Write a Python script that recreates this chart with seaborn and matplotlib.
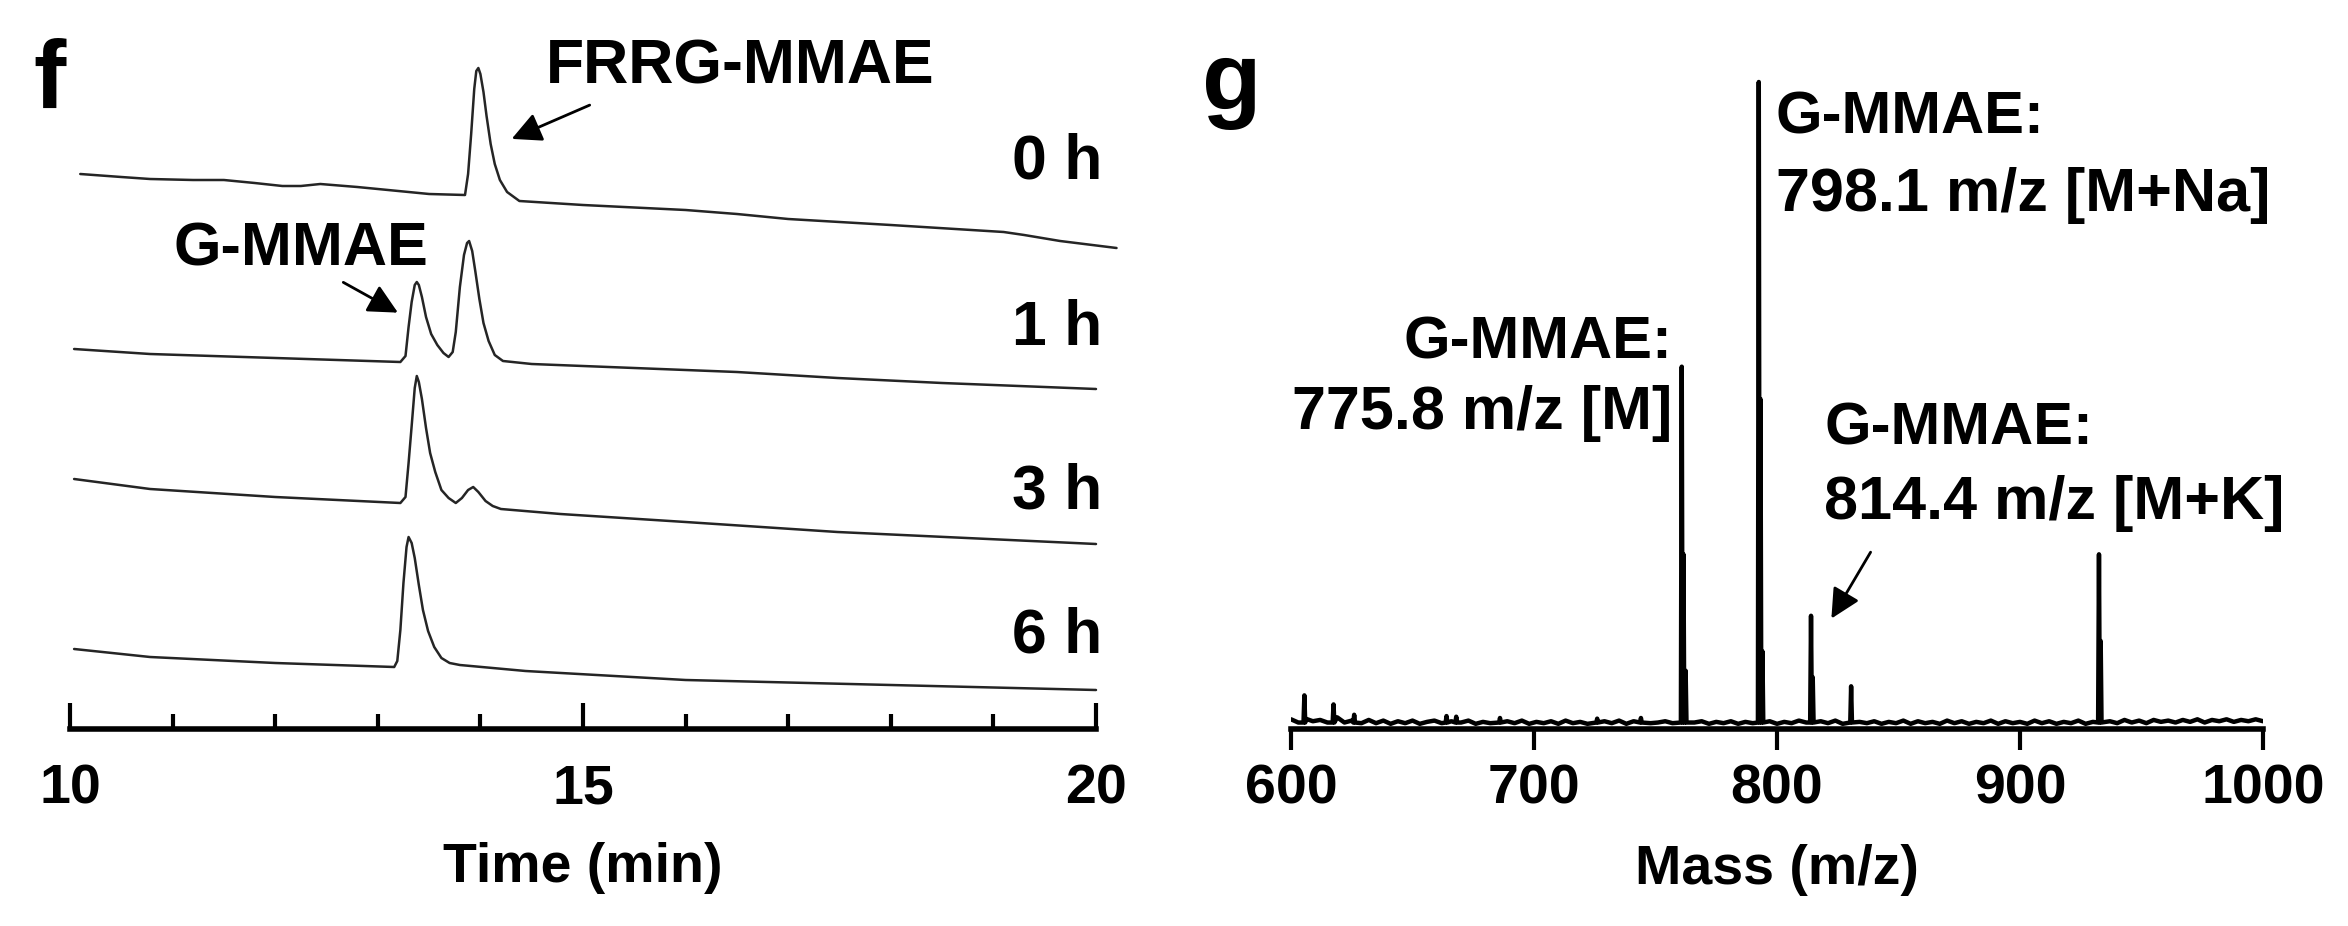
import matplotlib
matplotlib.use('Agg')
import matplotlib.pyplot as plt
import seaborn as sns
import pandas as pd
import numpy as np

sns.set_theme(style='white', rc={'axes.edgecolor': 'black', 'text.color': 'black',
                                 'xtick.color': 'black', 'axes.labelcolor': 'black'})
plt.rcParams['font.family'] = ['Liberation Sans', 'DejaVu Sans']
plt.rcParams['font.weight'] = 'bold'

# ---- panel f: HPLC traces (time in min, signal relative to start baseline) ----
labels = ['0 h', '1 h', '3 h', '6 h']

t_0h = [10.1, 10.5, 10.78, 11.2, 11.5, 11.8, 12.07, 12.25, 12.44, 12.8, 13.2, 13.5, 13.85,
        13.88, 13.91, 13.94, 13.96, 13.98, 14.0, 14.03, 14.06, 14.1, 14.14, 14.19, 14.26,
        14.38, 15.0, 16.0, 16.5, 17.0, 18.0, 19.1, 19.3, 19.65, 20.2]
s_0h = [0, -3, -5, -6, -6, -9, -12, -12, -10, -13, -17, -20, -21, 0, 40, 85, 103, 106,
        100, 82, 58, 30, 10, -6, -18, -27, -31, -36, -40, -45, -51, -58, -61, -67, -74]

t_1h = [10.04, 10.78, 12.0, 13.22, 13.27, 13.3, 13.33, 13.36, 13.38, 13.4, 13.43, 13.47,
        13.52, 13.58, 13.64, 13.69, 13.73, 13.76, 13.8, 13.84, 13.87, 13.89, 13.92, 13.95,
        13.99, 14.03, 14.08, 14.14, 14.22, 14.5, 15.5, 16.5, 17.48, 18.5, 20.0]
s_1h = [2, -3, -7, -11, -5, 24, 49, 66, 69, 66, 54, 34, 17, 6, -2, -6, -1, 19, 64, 96,
        108, 110, 100, 80, 52, 28, 10, -4, -10, -13, -17, -21, -27, -32, -38]

t_3h = [10.04, 10.78, 12.0, 13.22, 13.27, 13.3, 13.33, 13.36, 13.38, 13.4, 13.43, 13.47,
        13.51, 13.56, 13.62, 13.69, 13.76, 13.82, 13.88, 13.93, 13.98, 14.05, 14.12, 14.2,
        14.78, 16.0, 17.48, 20.0]
s_3h = [7, -3, -11, -17, -11, 23, 60, 98, 110, 104, 87, 58, 33, 14, -4, -12, -17, -12, -4,
        -1, -6, -15, -20, -23, -28, -36, -46, -58]

t_6h = [10.04, 10.78, 12.0, 13.16, 13.19, 13.22, 13.25, 13.28, 13.3, 13.33, 13.36, 13.4,
        13.44, 13.49, 13.55, 13.62, 13.7, 13.8, 14.44, 16.0, 18.0, 20.0]
s_6h = [6, -2, -8, -12, -6, 25, 72, 108, 118, 112, 97, 70, 45, 24, 8, -3, -8, -10, -16,
        -25, -30, -35]

offsets = [555, 378, 243, 74]

# ---- panel g: mass spectrum (relative intensity %) ----
peak_mz = [605.5, 617.5, 626, 664, 668, 686, 726, 744, 760.8, 761.5, 762.4,
           792.5, 793.2, 794.0, 814.0, 814.7, 830.5, 932.5, 933.2]
peak_int = [5.2, 3.8, 2.2, 2.0, 1.9, 1.7, 1.6, 1.7, 56, 27, 9,
            100, 51, 12, 17.5, 8, 6.6, 27, 13.6]

noise = [(600, 1.5), (603, 1.0), (606, 1.6), (609, 1.2), (612, 1.4), (615, 1.0), (619, 1.8),
         (622, 1.0), (625, 1.3), (629, 0.9), (632, 1.4), (635, 0.9), (638, 1.3), (641, 0.8),
         (644, 1.2), (647, 0.9), (650, 1.3), (653, 0.8), (656, 1.1), (659, 1.3), (662, 0.9),
         (666, 1.2), (670, 1.0), (673, 1.3), (676, 0.8), (679, 1.1), (682, 0.9), (689, 1.2),
         (692, 0.9), (695, 1.3), (698, 0.8), (701, 1.1), (704, 0.9), (707, 1.2), (710, 0.8),
         (713, 1.3), (716, 0.9), (719, 1.1), (722, 0.8), (729, 1.2), (732, 0.9), (735, 1.3),
         (738, 0.8), (741, 1.2), (748, 0.9), (751, 1.0), (754, 1.2), (757, 0.9), (766, 1.0),
         (769, 1.2), (772, 0.8), (775, 1.1), (778, 0.9), (781, 1.2), (784, 0.8), (787, 1.1),
         (790, 0.9), (797, 1.2), (800, 0.8), (803, 1.1), (806, 0.9), (809, 1.3), (812, 1.0),
         (818, 1.2), (821, 0.9), (824, 1.3), (827, 0.8), (834, 1.1), (837, 0.9), (840, 1.2),
         (843, 0.8), (846, 1.1), (849, 0.9), (852, 1.3), (855, 0.8), (858, 1.2), (861, 0.9),
         (864, 1.1), (867, 0.8), (870, 1.3), (873, 0.9), (876, 1.2), (879, 0.8), (882, 1.1),
         (885, 0.9), (888, 1.3), (891, 0.8), (894, 1.2), (897, 0.9), (900, 1.1), (903, 0.8),
         (906, 1.3), (909, 0.9), (912, 1.2), (915, 0.8), (918, 1.1), (921, 0.9), (924, 1.3),
         (927, 0.8), (930, 1.1), (937, 1.2), (940, 0.9), (943, 1.4), (946, 1.0), (949, 1.3),
         (952, 0.9), (955, 1.4), (958, 1.1), (961, 1.3), (964, 1.0), (967, 1.4), (970, 1.1),
         (973, 1.5), (976, 1.0), (979, 1.4), (982, 1.2), (985, 1.5), (988, 1.1), (991, 1.4),
         (994, 1.2), (997, 1.5), (1000, 1.2)]

# each peak drawn as a narrow stick on the baseline
pts = list(noise)
for m, h in zip(peak_mz, peak_int):
    pts += [(m - 0.35, 1.0), (m, h), (m + 0.35, 1.0)]
spec = pd.DataFrame(sorted(pts), columns=['mz', 'intensity'])

W, H = 2348, 926
fig = plt.figure(figsize=(W / 100, H / 100), dpi=100)
axis_y = 729
ax1 = fig.add_axes([70 / W, 1 - axis_y / H, 1026 / W, axis_y / H])
ax2 = fig.add_axes([1291 / W, 1 - axis_y / H, 972 / W, axis_y / H])

hplc = pd.concat([
    pd.DataFrame({'time': t, 'signal': np.array(s) + off, 'sample': lab})
    for t, s, off, lab in zip([t_0h, t_1h, t_3h, t_6h], [s_0h, s_1h, s_3h, s_6h], offsets, labels)
])
sns.lineplot(data=hplc, x='time', y='signal', units='sample', estimator=None, sort=False,
             color='#252525', linewidth=1.8, ax=ax1, clip_on=False, legend=False,
             solid_joinstyle='round')

ax1.set_xlim(10, 20)
ax1.set_ylim(0, axis_y)
for sp in ['left', 'right', 'top']:
    ax1.spines[sp].set_visible(False)
ax1.spines['bottom'].set_linewidth(4)
ax1.set_yticks([])
ax1.set_xticks([10, 15, 20])
ax1.set_xticks([11, 12, 13, 14, 16, 17, 18, 19], minor=True)
ax1.tick_params(axis='x', which='major', direction='in', length=19, width=3, pad=25,
                labelsize=40, bottom=True)
ax1.tick_params(axis='x', which='minor', direction='in', length=11, width=3, bottom=True)
ax1.set_xlabel('Time (min)', fontsize=40, fontweight='bold', labelpad=19)
ax1.set_ylabel('')

for lab, y in zip(labels, [567, 401, 237, 93]):
    ax1.text(20.06, y, lab, ha='right', va='center', fontsize=45, fontweight='bold',
             clip_on=False)

ax1.text(16.53, 662, 'FRRG-MMAE', ha='center', va='center', fontsize=45, fontweight='bold')
ax1.annotate('', xy=(14.28, 589), xytext=(15.09, 625),
             arrowprops=dict(arrowstyle='-|>', color='black', lw=2, mutation_scale=45))
ax1.text(12.25, 479, 'G-MMAE', ha='center', va='center', fontsize=44, fontweight='bold')
ax1.annotate('', xy=(13.22, 415), xytext=(12.64, 448),
             arrowprops=dict(arrowstyle='-|>', color='black', lw=2, mutation_scale=45))

# ---- panel g ----
sns.lineplot(data=spec, x='mz', y='intensity', estimator=None, sort=False, color='black',
             linewidth=3.2, ax=ax2)
ax2.set_xlim(600, 1000)
ax2.set_ylim(0, 100 * axis_y / 647)
for sp in ['left', 'right', 'top']:
    ax2.spines[sp].set_visible(False)
ax2.spines['bottom'].set_linewidth(4)
ax2.set_yticks([])
ax2.set_ylabel('')
ax2.set_xticks([600, 700, 800, 900, 1000])
ax2.tick_params(axis='x', which='major', direction='out', length=15, width=3, pad=10,
                labelsize=40, bottom=True)
ax2.set_xlabel('Mass (m/z)', fontsize=40, fontweight='bold', labelpad=20)

ax2.text(799.5, 94.4, 'G-MMAE:', ha='left', va='center', fontsize=43, fontweight='bold')
ax2.text(799.5, 82.5, '798.1 m/z [M+Na]', ha='left', va='center', fontsize=44, fontweight='bold')
ax2.text(756.8, 59.6, 'G-MMAE:', ha='right', va='center', fontsize=43, fontweight='bold')
ax2.text(756.8, 48.7, '775.8 m/z [M]', ha='right', va='center', fontsize=44, fontweight='bold')
ax2.text(819.5, 46.4, 'G-MMAE:', ha='left', va='center', fontsize=43, fontweight='bold')
ax2.text(819.5, 34.9, '814.4 m/z [M+K]', ha='left', va='center', fontsize=44, fontweight='bold')
ax2.annotate('', xy=(821.8, 16.7), xytext=(839.1, 27.7),
             arrowprops=dict(arrowstyle='-|>', color='black', lw=2, mutation_scale=45))

fig.text(33 / W, 1 - 108 / H, 'f', fontsize=70, fontweight='bold', va='baseline')
fig.text(1202 / W, 1 - 110 / H, 'g', fontsize=70, fontweight='bold', va='baseline')

fig.savefig('out.png', dpi=100, facecolor='white')
